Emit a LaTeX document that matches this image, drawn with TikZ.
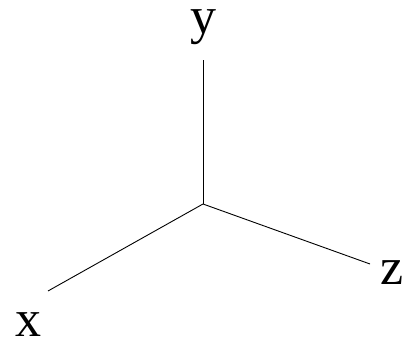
\documentclass[tikz,border=0pt]{standalone}
\usepackage{fontspec}
\setmainfont{Liberation Serif}
\usetikzlibrary{positioning}

\begin{document}
\begin{tikzpicture}[x=1pt, y=1pt, axis/.style={draw, line width=0.9pt}, lbl/.style={font=\fontsize{52}{52}\selectfont, inner sep=0pt}]
		\useasboundingbox (0, 0) rectangle (414, 339);
		\coordinate (o) at (203, 135);
		\coordinate (ye) at (203, 279);
		\coordinate (xe) at (48, 48);
		\coordinate (ze) at (370, 75);
		\node[lbl] (ylbl) at (203, 312) {y};
		\node[lbl] (xlbl) at (28, 14) {x};
		\node[lbl] (zlbl) at (392, 66) {z};
		\draw[axis] (o) -- (ye);
		\draw[axis] (o) -- (xe);
		\draw[axis] (o) -- (ze);
	\end{tikzpicture}
\end{document}
